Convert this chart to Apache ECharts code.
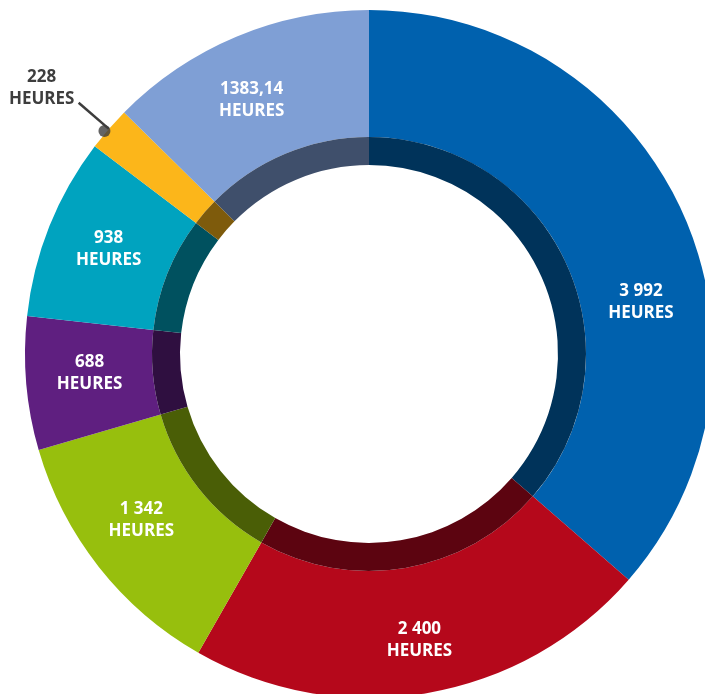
<!DOCTYPE html>
<html lang="fr">
<head>
    <meta charset="UTF-8">
    <title>Heures</title>
    <script src="https://cdn.jsdelivr.net/npm/echarts@6/dist/echarts.min.js"></script>
</head>
<body style="margin:0">
<div id="container" style="width:705px;height:694px;"></div>
<script>
    // valeurs, dans l'ordre horaire depuis midi
    var hours = [3992, 2400, 1342, 688, 938, 228, 1383.14];
    var colors = ['#0061ae', '#b5081b', '#97bf0d', '#5f1f80', '#00a3bf', '#fcb61a', '#7f9fd5'];
    var darkColors = ['#00335a', '#5c0410', '#4a5e06', '#2f0f40', '#00515f', '#7e5b0c', '#3f4f6b'];
    var unit = 'HEURES';
    var outsideIndex = 5; // 228 : étiquette à l'extérieur

    var total = hours.reduce(function (a, b) { return a + b; }, 0);

    function fmt(v) {
        if (v % 1 !== 0) return String(v).replace('.', ',');
        return String(v).replace(/\B(?=(\d{3})+(?!\d))/g, ' ');
    }

    var outerData = hours.map(function (v, i) {
        var d = {value: v, itemStyle: {color: colors[i]}};
        if (i === outsideIndex) {
            d.label = {position: 'outside', color: '#3d3d3d', verticalAlign: 'bottom', overflow: 'none'};
            d.labelLine = {show: true, length: 40, length2: 0, lineStyle: {color: '#3d3d3d', width: 2.5}};
        }
        return d;
    });
    var innerData = hours.map(function (v, i) {
        return {value: v, itemStyle: {color: darkColors[i]}};
    });

    // position angulaire du point au bout du trait
    var before = 0;
    for (var i = 0; i < outsideIndex; i++) before += hours[i];
    var dotAngle = before + hours[outsideIndex] * 0.4;

    var myChart = echarts.init(document.getElementById('container'));
    myChart.setOption({
        animation: false,
        backgroundColor: '#fff',
        polar: {center: [369, 354], radius: 360},
        angleAxis: {type: 'value', min: 0, max: total, startAngle: 90, show: false},
        radiusAxis: {type: 'value', min: 0, max: 360, show: false},
        series: [
            {
                type: 'pie',
                center: [369, 354],
                radius: [217, 344],
                startAngle: 90,
                silent: true,
                label: {
                    show: true,
                    position: 'inside',
                    color: '#fff',
                    fontFamily: 'Open Sans',
                    fontWeight: 'bold',
                    fontSize: 17,
                    lineHeight: 22,
                    formatter: function (p) { return fmt(p.value) + '\n' + unit; }
                },
                labelLine: {show: false},
                labelLayout: function (p) {
                    if (p.dataIndex === 0) return {dx: 14, dy: 66};
                    if (p.dataIndex === 1) return {dx: 3, dy: 7};
                    if (p.dataIndex === 2) return {dx: -5, dy: -9};
                    if (p.dataIndex === 3) return {dx: 3, dy: -5};
                    if (p.dataIndex === 4) return {dx: 3, dy: 0};
                    if (p.dataIndex === 6) return {dx: -8, dy: 8};
                    if (p.dataIndex === outsideIndex) return {dx: -32, dy: -15, align: 'center'};
                    return {};
                },
                data: outerData
            },
            {
                type: 'pie',
                center: [369, 354],
                radius: [189, 217],
                startAngle: 90,
                silent: true,
                label: {show: false},
                labelLine: {show: false},
                data: innerData
            },
            {
                type: 'scatter',
                coordinateSystem: 'polar',
                symbolSize: 12,
                silent: true,
                itemStyle: {color: '#3d3d3d'},
                data: [[346, dotAngle]]
            }
        ]
    });
</script>
</body>
</html>
